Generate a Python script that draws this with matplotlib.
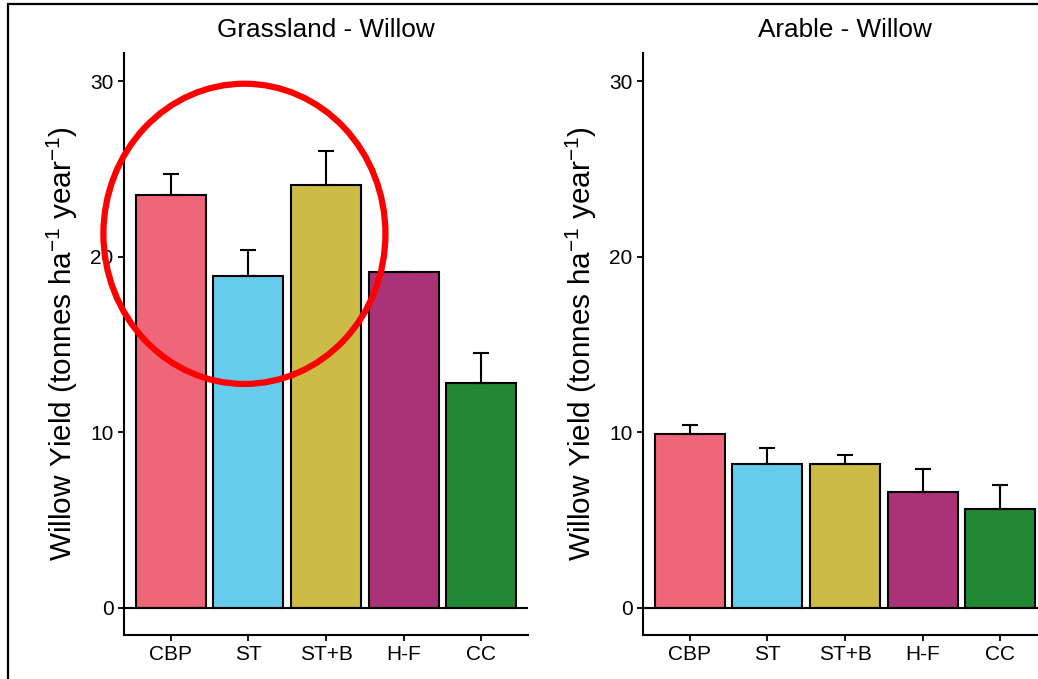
import matplotlib
matplotlib.use('Agg')
import matplotlib.pyplot as plt
from matplotlib.patches import Ellipse, Rectangle

plt.rcParams['font.family'] = ['Liberation Sans', 'DejaVu Sans']
plt.rcParams['mathtext.fontset'] = 'custom'
plt.rcParams['mathtext.rm'] = 'Liberation Sans'
plt.rcParams['mathtext.it'] = 'Liberation Sans'

# data
treatments = ['CBP', 'ST', 'ST+B', 'H-F', 'CC']
colors = ['#EE6677', '#66CCEE', '#CCBB44', '#AA3377', '#228833']
panels = ['Grassland - Willow', 'Arable - Willow']
grass_yield = [23.5, 18.9, 24.1, 19.1, 12.8]
grass_err = [1.2, 1.5, 1.9, 0.0, 1.7]
arable_yield = [9.9, 8.2, 8.2, 6.6, 5.6]
arable_err = [0.5, 0.9, 0.5, 1.3, 1.4]

fig = plt.figure(figsize=(10.38, 6.79), dpi=100)

# frame of the original screenshot
fig.patches.append(Rectangle((8 / 1038, -0.1), 1.2, 1 - 4 / 679 + 0.1,
                             transform=fig.transFigure, fill=False,
                             edgecolor='black', linewidth=1.6))

lefts = [124 / 1038, 643 / 1038]
data = [(grass_yield, grass_err), (arable_yield, arable_err)]
axes = []
for left, title, (vals, errs) in zip(lefts, panels, data):
    ax = fig.add_axes([left, 1 - 635 / 679, 404 / 1038, 582 / 679])
    x = range(len(treatments))
    ax.bar(x, vals, width=0.9, color=colors, edgecolor='black', linewidth=1.5, zorder=2)
    ax.errorbar(x, vals, yerr=[[0] * len(errs), errs], fmt='none', ecolor='black',
                elinewidth=1.5, capsize=5.5, capthick=1.5, zorder=3)
    ax.axhline(0, color='black', linewidth=1.5, zorder=4)
    ax.set_xlim(-0.6, 4.6)
    ax.set_ylim(-1.55, 31.6)
    ax.set_yticks([0, 10, 20, 30])
    ax.set_xticks(list(x))
    ax.set_xticklabels(treatments)
    for side in ['top', 'right']:
        ax.spines[side].set_visible(False)
    for side in ['left', 'bottom']:
        ax.spines[side].set_linewidth(1.5)
    ax.tick_params(labelsize=15, length=4.5, width=1.3, pad=3, colors='black')
    ax.set_ylabel(r'Willow Yield (tonnes ha$^{-1}$ year$^{-1}$)', fontsize=21.4)
    ax.yaxis.set_label_coords(-0.110, 0.5)
    ax.text(0.5, 1.04, title, transform=ax.transAxes, ha='center', va='center', fontsize=18.8)
    axes.append(ax)

# red highlight ring on the grassland panel
axes[0].add_patch(Ellipse((0.95, 21.3), 3.63, 17.1, fill=False, edgecolor='red',
                          linewidth=4.5, clip_on=False, zorder=5))

fig.savefig('out.png', dpi=100)
